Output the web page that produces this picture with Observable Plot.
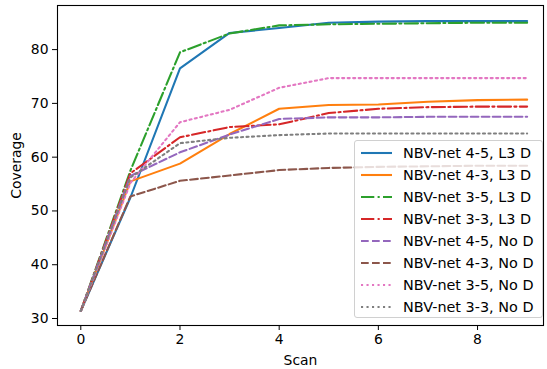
<!DOCTYPE html>
<html><head><meta charset="utf-8">
<script src="https://cdn.jsdelivr.net/npm/d3@7"></script>
<script src="https://cdn.jsdelivr.net/npm/@observablehq/plot@0.6"></script>
<style>
body{margin:0;background:#fff;font-family:"DejaVu Sans",sans-serif}
#wrap{position:relative;width:547px;height:369px}
#legend{position:absolute;left:354px;top:140px;width:187px;height:176px;border:1px solid #d0d0d0;border-radius:3px;background:rgba(255,255,255,0.8);box-sizing:content-box}
.row{position:absolute;left:0;height:22px;display:flex;align-items:center;font-size:14.4px;color:#000;white-space:nowrap}
.row svg{margin-left:6px;margin-right:11px}
</style>
</head><body><div id="wrap"><div id="legend"></div></div>
<script>
const scans = [0, 1, 2, 3, 4, 5, 6, 7, 8, 9];
const seriesNames = ["NBV-net 4-5, L3 D","NBV-net 4-3, L3 D","NBV-net 3-5, L3 D","NBV-net 3-3, L3 D","NBV-net 4-5, No D","NBV-net 4-3, No D","NBV-net 3-5, No D","NBV-net 3-3, No D"];
const v45L3 = [31.4, 52.5, 76.5, 83.1, 84.0, 85.0, 85.2, 85.3, 85.3, 85.3];
const v43L3 = [31.4, 55.5, 58.8, 64.3, 69.0, 69.7, 69.8, 70.3, 70.6, 70.7];
const v35L3 = [31.4, 57.5, 79.5, 83.0, 84.5, 84.7, 84.8, 84.9, 85.0, 85.0];
const v33L3 = [31.4, 57.0, 63.7, 65.6, 66.1, 68.2, 69.0, 69.3, 69.4, 69.4];
const v45No = [31.4, 56.5, 60.9, 64.2, 67.1, 67.4, 67.4, 67.5, 67.5, 67.5];
const v43No = [31.4, 52.7, 55.6, 56.6, 57.6, 58.0, 58.2, 58.3, 58.4, 58.4];
const v35No = [31.4, 55.2, 66.5, 68.8, 72.9, 74.7, 74.7, 74.7, 74.7, 74.7];
const v33No = [31.4, 56.2, 62.6, 63.6, 64.1, 64.4, 64.4, 64.4, 64.4, 64.4];
const xTicks = [0, 2, 4, 6, 8];
const yTicks = [30, 40, 50, 60, 70, 80];

const allValues = [v45L3, v43L3, v35L3, v33L3, v45No, v43No, v35No, v33No];
const colors = ["#1f77b4","#ff7f0e","#2ca02c","#d62728","#9467bd","#8c564b","#e377c2","#7f7f7f"];
const dashes = ["none","none","13.3,3.3,2.1,3.3","13.3,3.3,2.1,3.3","7.7,3.3","7.7,3.3","2.1,3.4","2.1,3.4"];

const lineMarks = seriesNames.map((name, i) => {
  const data = scans.map((s, j) => ({scan: s, value: allValues[i][j], series: name}));
  return Plot.line(data, {x: "scan", y: "value", stroke: colors[i], strokeWidth: 2.08, strokeDasharray: dashes[i]});
});

const chart = Plot.plot({
  width: 547, height: 369,
  marginLeft: 57, marginRight: 4, marginTop: 5, marginBottom: 44,
  style: {fontFamily: "DejaVu Sans, sans-serif", fontSize: "13.9px", color: "#000", background: "transparent"},
  x: {domain: [-0.47, 9.33]},
  y: {domain: [28.7, 88.2]},
  marks: [
    ...lineMarks,
    Plot.frame({stroke: "#000", strokeWidth: 1.1}),
    Plot.axisX({ticks: xTicks, tickSize: 5, tickPadding: 4, label: "Scan", labelAnchor: "center", labelArrow: "none", labelOffset: 39, fontSize: 13.9}),
    Plot.axisY({ticks: yTicks, tickSize: 5, tickPadding: 4, label: "Coverage", labelAnchor: "center", labelArrow: "none", labelOffset: 46, fontSize: 13.9})
  ]
});
const wrap = document.getElementById("wrap");
wrap.insertBefore(chart, wrap.firstChild);
chart.style.position = "absolute"; chart.style.left = "0"; chart.style.top = "0";

const legend = document.getElementById("legend");
seriesNames.forEach((name, i) => {
  const row = document.createElement("div");
  row.className = "row";
  row.style.top = (1 + 22 * i) + "px";
  row.innerHTML = `<svg width="31" height="6"><line x1="0" y1="3" x2="31" y2="3" stroke="${colors[i]}" stroke-width="2.08" stroke-dasharray="${dashes[i]}"/></svg><span>${name}</span>`;
  legend.appendChild(row);
});
</script>
</body></html>
